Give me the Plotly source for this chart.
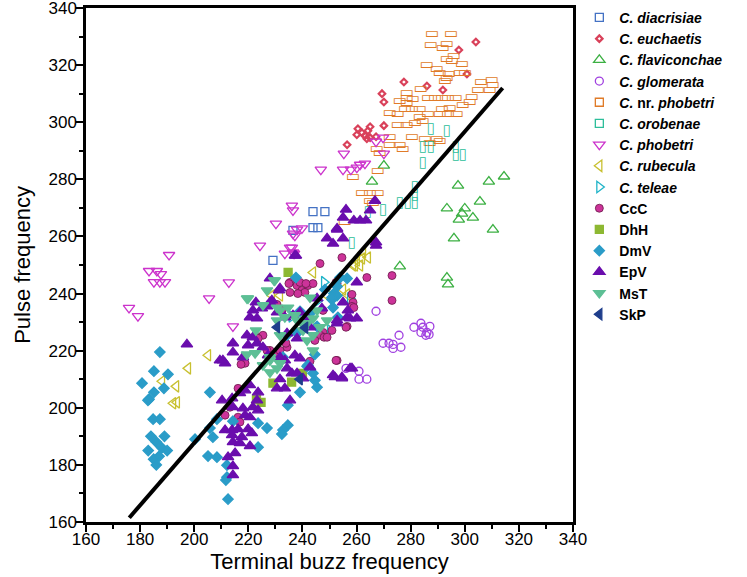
import plotly.graph_objects as go

# ---------------- data (x = terminal buzz frequency, y = pulse frequency) ----------------
diacrisiae_x = [243.9, 248.3, 243.9, 245.7, 229.1, 236.5]
diacrisiae_y = [268.7, 268.7, 263.1, 263.1, 251.6, 262.1]

euchaetis_x = [304.1, 297.8, 300.8, 277.5, 286.0, 291.9, 269.4, 270.1, 270.1, 260.5,
               262.0, 260.1, 263.1, 264.2, 265.0, 263.8, 265.0, 256.5, 267.2]
euchaetis_y = [328.1, 325.3, 316.9, 314.1, 312.7, 311.3, 310.0, 307.1, 298.8, 297.7,
               296.3, 295.6, 295.3, 297.0, 298.4, 294.2, 294.6, 292.1, 294.9]

flaviconchae_x = [297.5, 308.9, 314.5, 305.6, 293.4, 300.0, 299.0, 297.8, 303.0, 310.4,
                  296.0, 276.0, 293.4, 293.8, 270.1, 265.7]
flaviconchae_y = [277.8, 279.2, 281.0, 272.2, 269.8, 269.8, 268.0, 265.9, 266.6, 262.4,
                  259.3, 249.5, 245.6, 243.2, 284.8, 279.2]

glomerata_x = [267.2, 281.2, 283.8, 284.5, 287.1, 283.8, 286.0, 286.8, 285.6, 275.7,
               269.8, 272.0, 273.5, 273.5, 276.4, 256.1, 260.9, 260.9, 263.8]
glomerata_y = [233.8, 228.2, 229.6, 228.2, 228.5, 226.4, 226.4, 225.7, 225.4, 225.4,
               222.6, 222.6, 222.2, 220.8, 221.2, 213.8, 212.8, 210.0, 210.0]

nrphobetri_x = [287.9, 294.9, 287.5, 293.4, 291.9, 296.0, 293.4, 295.3, 299.0, 286.0,
                289.7, 290.8, 294.1, 298.2, 300.1, 293.4, 292.7, 306.0, 310.0, 310.4,
                304.9, 309.3, 283.8, 278.6, 278.6, 280.8, 286.4, 289.0, 291.6, 293.8,
                296.7, 302.6, 301.9, 299.3, 276.0, 278.6, 277.9, 280.5, 283.4, 286.4,
                291.6, 294.5, 290.8, 293.8, 297.1, 272.3, 275.3, 283.4, 284.5, 281.6,
                275.3, 278.6, 272.3, 280.5, 285.3, 289.7, 272.3, 276.0, 277.1, 287.1,
                290.8, 267.5, 268.6, 267.9, 258.7, 262.0, 265.0, 267.9, 265.0, 266.1,
                255.7]
nrphobetri_y = [330.9, 330.9, 327.1, 327.4, 326.0, 323.2, 322.2, 321.5, 320.4, 320.1,
                318.7, 317.3, 316.9, 317.3, 317.3, 315.5, 314.5, 314.1, 314.8, 313.1,
                311.3, 311.3, 311.7, 310.0, 308.5, 308.2, 308.5, 308.5, 308.5, 308.5,
                308.5, 308.9, 307.1, 305.8, 307.5, 306.5, 304.7, 304.7, 304.7, 302.9,
                304.7, 305.0, 302.9, 302.9, 302.9, 303.3, 302.9, 301.6, 300.5, 299.8,
                298.8, 298.8, 294.6, 294.6, 294.2, 294.2, 292.1, 291.8, 290.7, 292.8,
                293.2, 290.4, 289.0, 283.0, 280.9, 275.0, 275.0, 275.0, 272.5, 271.8,
                264.9]

orobenae_x = [287.5, 293.4, 284.5, 287.5, 296.7, 296.7, 299.3, 284.5, 281.6, 281.6,
              281.6, 279.0, 276.0, 269.8, 264.2, 258.3]
orobenae_y = [297.4, 296.7, 291.1, 291.1, 291.1, 288.3, 288.3, 285.8, 277.1, 274.3,
              271.5, 271.5, 271.5, 269.1, 268.4, 257.5]

phobetri_x = [190.7, 183.3, 186.2, 187.7, 185.1, 187.3, 189.2, 175.9, 179.2, 212.8,
              205.5, 214.3, 224.3, 230.2, 238.0, 239.8, 236.5, 233.5, 235.4, 236.5,
              255.3, 246.8, 255.0, 257.9, 260.1, 261.3, 263.1, 267.2, 269.8, 270.1,
              236.1, 236.5, 237.2, 236.1, 236.9]
phobetri_y = [253.5, 247.9, 247.9, 246.8, 244.0, 244.0, 244.0, 235.0, 232.1, 243.9,
              238.3, 228.5, 256.8, 264.5, 262.4, 262.8, 261.0, 254.0, 256.1, 254.4,
              289.0, 283.4, 283.4, 283.4, 284.1, 285.1, 285.5, 293.2, 294.6, 289.0,
              270.8, 269.1, 260.3, 256.1, 254.0]

rubecula_x = [205.1, 197.7, 188.1, 193.3, 192.2, 193.6, 243.9, 259.4, 262.0, 262.4,
              255.0, 256.5, 249.1, 228.7, 264.2, 260.1, 258.7, 261.3, 231.7]
rubecula_y = [218.4, 213.8, 209.3, 207.5, 201.6, 201.9, 247.4, 249.8, 252.3, 254.4,
              241.4, 239.7, 239.3, 239.3, 252.6, 251.6, 249.8, 249.8, 239.3]

teleae_x = [257.6, 245.7, 250.2, 236.0, 248.0]
teleae_y = [238.3, 237.6, 227.1, 232.0, 244.0]

ccc_x = [246.5, 252.4, 263.8, 273.1, 273.1, 266.8, 254.6, 235.4, 238.0, 239.8,
         242.0, 243.9, 240.9, 238.3, 235.4, 258.3, 258.7, 258.3, 259.0, 247.6,
         232.4, 256.5, 247.6, 246.5, 248.0, 223.2, 225.4, 252.8, 242.8, 234.3,
         230.2, 218.8, 217.3, 216.2, 213.2, 211.4, 216.2, 216.9, 233.9, 231.7,
         228.0, 223.6, 226.9, 256.1, 252.4, 250.9, 252.8, 230.6, 235.0, 239.1,
         241.3, 244.6, 249.1]
ccc_y = [250.5, 243.9, 245.6, 246.3, 237.6, 257.9, 252.6, 243.9, 242.8, 241.1,
         242.8, 243.5, 240.4, 240.0, 240.4, 239.7, 236.9, 235.5, 235.1, 234.1,
         234.1, 228.5, 226.4, 225.4, 224.7, 224.7, 225.4, 216.6, 216.3, 221.2,
         219.4, 215.6, 215.2, 206.8, 200.2, 197.4, 196.7, 195.0, 222.6, 220.1,
         220.1, 224.3, 220.1, 228.2, 216.6, 227.1, 243.5, 236.2, 243.5, 243.9,
         243.5, 223.6, 224.7]

dhh_x = [234.7, 229.1, 224.7, 240.0, 236.0, 223.0]
dhh_y = [247.4, 208.6, 201.9, 212.0, 209.0, 203.0]

dmv_x = [187.3, 185.1, 190.3, 180.7, 188.8, 185.1, 205.8, 182.9, 183.3, 184.8,
         187.3, 184.0, 186.0, 188.0, 183.0, 187.0, 185.0, 189.0, 190.0, 186.0,
         200.3, 205.8, 206.9, 208.4, 214.3, 223.6, 226.9, 223.6, 205.1, 208.4,
         212.1, 212.1, 211.7, 234.6, 232.8, 232.4, 234.6, 239.1, 245.4, 244.6,
         242.0, 243.9, 251.3, 250.9, 256.5, 253.9, 251.6, 252.8, 253.1, 237.6,
         250.9, 252.8, 248.3, 239.1, 242.8, 245.4, 234.3, 238.0, 244.6, 241.7,
         232.8, 212.5]
dmv_y = [219.5, 212.8, 211.7, 208.6, 206.8, 205.4, 205.4, 202.6, 203.0, 196.0,
         196.0, 190.0, 188.0, 186.0, 185.0, 183.0, 182.0, 190.0, 185.0, 180.0,
         189.0, 192.9, 189.7, 196.0, 195.3, 194.6, 192.9, 186.2, 183.1, 182.7,
         179.9, 175.7, 174.7, 193.9, 192.2, 190.8, 200.9, 205.4, 207.2, 209.6,
         214.9, 212.1, 235.1, 237.9, 245.3, 245.6, 240.0, 239.3, 231.7, 245.6,
         238.6, 242.5, 241.4, 233.8, 233.1, 228.5, 225.4, 226.1, 218.7, 214.5,
         217.7, 168.0]

epv_x = [197.3, 214.3, 214.3, 209.5, 211.4, 219.9, 223.2, 225.4, 227.3, 231.7,
         233.5, 237.2, 239.1, 234.3, 236.1, 238.0, 240.2, 242.8, 230.6, 233.5,
         220.6, 223.6, 216.9, 218.8, 223.2, 221.7, 210.3, 214.0, 214.3, 218.0,
         218.8, 220.6, 223.6, 211.4, 214.0, 216.2, 219.9, 214.0, 217.6, 221.3,
         214.3, 216.9, 220.6, 212.5, 215.1, 214.3, 214.3, 235.4, 231.7, 251.3,
         254.6, 258.3, 252.8, 249.1, 251.3, 255.0, 228.0, 231.7, 222.8, 220.6,
         223.2, 221.7, 225.0, 226.9, 230.6, 228.7, 219.5, 221.7, 233.5, 236.5,
         245.4, 247.2, 256.5, 260.1, 242.8, 252.8, 234.3, 238.0, 256.1, 255.0,
         252.8, 259.0, 261.3, 263.5, 265.0, 237.2, 267.2, 266.8, 260.1, 267.2,
         255.0, 256.8, 257.6, 252.8, 252.0, 254.6, 257.6, 228.0, 231.3, 239.1,
         241.7, 218.0, 210.6, 237.6]
epv_y = [222.2, 222.6, 219.4, 216.6, 215.6, 221.9, 222.6, 221.2, 218.4, 217.7,
         216.6, 218.4, 217.3, 213.8, 212.1, 212.1, 210.3, 214.2, 206.8, 206.8,
         207.9, 205.4, 205.1, 206.1, 202.6, 200.2, 202.6, 203.3, 200.2, 199.8,
         197.4, 196.7, 199.1, 192.2, 192.2, 192.5, 192.5, 190.4, 189.7, 191.1,
         188.0, 187.6, 186.6, 182.7, 184.1, 179.6, 176.4, 202.6, 210.0, 211.4,
         210.7, 213.8, 262.4, 259.3, 257.5, 259.3, 245.3, 241.8, 236.9, 231.7,
         231.3, 234.1, 234.8, 235.5, 233.4, 237.6, 225.4, 224.7, 231.7, 232.4,
         238.3, 234.8, 231.7, 231.3, 228.2, 229.6, 226.1, 224.3, 269.4, 266.6,
         262.8, 265.6, 265.6, 265.6, 269.1, 253.3, 257.9, 272.5, 243.9, 256.8,
         236.9, 234.1, 231.3, 230.6, 210.7, 210.3, 213.8, 236.9, 241.1, 233.4,
         231.7, 217.7, 216.6, 253.3]

mst_x = [219.9, 222.8, 229.8, 226.9, 219.5, 231.7, 234.7, 238.0, 241.7, 240.2,
         243.9, 230.6, 228.0, 231.7, 242.8, 245.4, 249.1, 219.5, 222.5, 225.4,
         228.0, 231.7, 228.0, 230.6, 229.5, 225.4, 230.6, 233.5, 237.2, 239.8,
         243.9, 246.5, 241.7, 243.9]
mst_y = [238.3, 227.1, 244.6, 241.1, 238.3, 234.1, 235.1, 230.6, 229.6, 227.1,
         225.4, 230.6, 217.7, 225.4, 238.6, 234.1, 230.6, 218.7, 219.1, 214.9,
         212.4, 215.6, 216.6, 213.8, 244.6, 235.9, 235.1, 231.7, 232.4, 229.6,
         231.3, 228.2, 223.6, 220.1]

skp_x = [230.6, 241.0, 239.0]
skp_y = [228.2, 228.0, 210.0]

reg_x = [176.0, 314.0]
reg_y = [161.5, 312.0]

# ---------------- figure ----------------
fig = go.Figure()
FONT = "Arial, Liberation Sans, sans-serif"


def marker_trace(name, xs, ys, symbol, color, size, line_color=None, line_width=1.3):
    fig.add_trace(go.Scatter(
        x=xs, y=ys, mode="markers", name=name,
        marker=dict(symbol=symbol, size=size, color=color,
                    line=dict(color=line_color or color, width=line_width)),
    ))


def rect_trace(name, xs, ys, glyph, color, legend_symbol):
    fig.add_trace(go.Scatter(
        x=[None], y=[None], mode="markers", name=name, legendgroup=name,
        marker=dict(symbol=legend_symbol, size=8, color=color,
                    line=dict(color=color, width=1.3)),
    ))
    fig.add_trace(go.Scatter(
        x=xs, y=ys, mode="text", text=[glyph] * len(xs), legendgroup=name,
        showlegend=False, hoverinfo="x+y",
        textfont=dict(family="DejaVu Sans", size=15, color=color),
    ))


marker_trace("<b><i>C. diacrisiae</i></b>", diacrisiae_x, diacrisiae_y,
             "square-open", "#4472C4", 8)
marker_trace("<b><i>C. euchaetis</i></b>", euchaetis_x, euchaetis_y,
             "diamond-open", "#D9415A", 5, line_width=2.2)
marker_trace("<b><i>C. flaviconchae</i></b>", flaviconchae_x, flaviconchae_y,
             "triangle-up-open", "#3CB043", 10)
marker_trace("<b><i>C. glomerata</i></b>", glomerata_x, glomerata_y,
             "circle-open", "#A040E0", 8)
rect_trace("<b><i>C.</i> nr. <i>phobetri</i></b>", nrphobetri_x, nrphobetri_y,
           "▭", "#E07B28", "square-open")
rect_trace("<b><i>C. orobenae</i></b>", orobenae_x, orobenae_y,
           "▯", "#2DBE9A", "square-open")
marker_trace("<b><i>C. phobetri</i></b>", phobetri_x, phobetri_y,
             "triangle-down-open", "#CC33CC", 10)
marker_trace("<b><i>C. rubecula</i></b>", rubecula_x, rubecula_y,
             "triangle-left-open", "#C8C030", 10)
marker_trace("<b><i>C. teleae</i></b>", teleae_x, teleae_y,
             "triangle-right-open", "#1FB4C8", 10)
marker_trace("<b>CcC</b>", ccc_x, ccc_y, "circle", "#CC3399", 8,
             line_color="#6B1A4A", line_width=0.8)
marker_trace("<b>DhH</b>", dhh_x, dhh_y, "square", "#8DB832", 8)
marker_trace("<b>DmV</b>", dmv_x, dmv_y, "diamond", "#2A9CC8", 8)
marker_trace("<b>EpV</b>", epv_x, epv_y, "triangle-up", "#6A0DAD", 10)
marker_trace("<b>MsT</b>", mst_x, mst_y, "triangle-down", "#5DBF95", 10)
marker_trace("<b>SkP</b>", skp_x, skp_y, "triangle-left", "#1F3E8C", 10)

fig.add_trace(go.Scatter(
    x=reg_x, y=reg_y, mode="lines", showlegend=False,
    line=dict(color="black", width=4),
))

axis_common = dict(
    range=[160, 340], dtick=20, tick0=160, automargin=False,
    showline=True, linecolor="black", linewidth=2.5, mirror=True,
    ticks="outside", ticklen=7, tickwidth=2, tickcolor="black",
    minor=dict(dtick=10, ticks="outside", ticklen=4, tickwidth=2, tickcolor="black"),
    showgrid=False, zeroline=False, ticklabeloverflow="allow",
    tickfont=dict(family=FONT, size=17, color="black"),
)

fig.update_layout(
    width=747, height=577,
    margin=dict(l=86, r=174, t=8, b=55, autoexpand=False),
    paper_bgcolor="white", plot_bgcolor="white",
    font=dict(family=FONT, color="black"),
    xaxis=dict(**axis_common, ticklabelstandoff=-7,
               title=dict(text="Terminal buzz frequency",
                          font=dict(family=FONT, size=22, color="black"),
                          standoff=2)),
    yaxis=dict(**axis_common, ticklabelstandoff=-4,
               title=dict(text="Pulse frequency",
                          font=dict(family=FONT, size=22, color="black"),
                          standoff=12)),
    legend=dict(x=1.013, y=1.012, xanchor="left", yanchor="top",
                font=dict(family=FONT, size=14, color="black"),
                tracegroupgap=0, itemwidth=30, bgcolor="rgba(0,0,0,0)",
                maxheight=560),
    showlegend=True,
)

fig.write_html("out.html",
               config={"displayModeBar": False},
               post_script="document.body.style.margin='0px';")
